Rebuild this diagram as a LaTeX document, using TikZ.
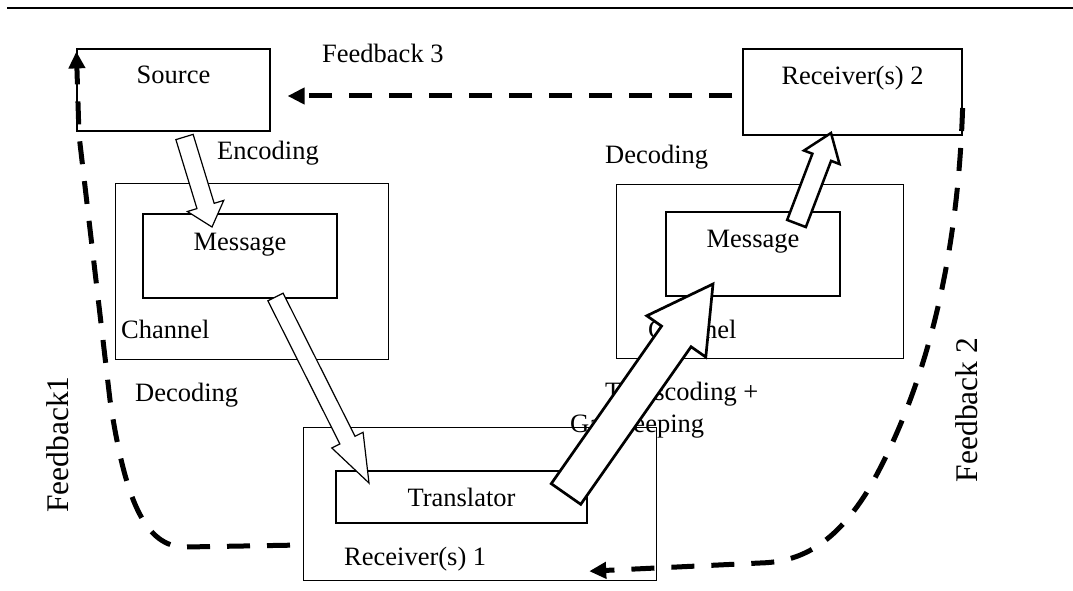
\documentclass[tikz,border=0pt]{standalone}
\usepackage{fontspec}
\setmainfont{Liberation Serif}
\usetikzlibrary{arrows.meta,calc}

% hollow block arrow: [style]{tail}{tip}{half shaft}{half head}{head length}
\newcommand{\blockarrow}[6][]{%
  \coordinate (hb) at ($(#3)!#6!(#2)$);
  \draw[blockarrow,#1] ($(#2)!#4!90:(#3)$) -- ($(hb)!#4!90:(#3)$) -- ($(hb)!#5!90:(#3)$) -- (#3)
    -- ($(hb)!#5!-90:(#3)$) -- ($(hb)!#4!-90:(#3)$) -- ($(#2)!#4!-90:(#3)$) -- cycle;
}

\begin{document}
\begin{tikzpicture}[x=1pt,y=-1pt]
% Define styles for nodes and edges
\tikzstyle{txt} = [font=\fontsize{26.5}{30}\selectfont, inner sep=0]
\tikzstyle{bigtxt} = [font=\fontsize{31.5}{36}\selectfont, inner sep=0]
\tikzstyle{boxed} = [draw, line width=1.2pt, inner sep=0, font=\fontsize{26.5}{30}\selectfont]
\tikzstyle{feedback} = [line width=5pt, dash pattern=on 23pt off 17pt, -{Triangle[length=17pt,width=16pt]}]
\tikzstyle{blockarrow} = [draw, fill=white, line width=1.2pt, line join=miter]

\useasboundingbox (0,0) rectangle (1073,591);
\draw[line width=1.5pt] (7,8) -- (1073,8);

% Nodes
\node[boxed, anchor=base, minimum width=193pt, text height=35pt, text depth=47pt] (source) at (173.5,84) {Source};
\node[boxed, anchor=base, minimum width=219pt, text height=36pt, text depth=50pt] (recv2) at (852.5,85) {Receiver(s) 2};

\node[boxed, anchor=north west, minimum width=273pt, minimum height=176pt] (chanL) at (115,183) {};
\node[boxed, anchor=base, minimum width=194pt, text height=36pt, text depth=48pt] (msgL) at (240,250) {Message};
\node[boxed, anchor=north west, minimum width=287pt, minimum height=174pt] (chanR) at (616,184) {};
\node[boxed, anchor=base, minimum width=174pt, text height=35pt, text depth=49pt] (msgR) at (753,247) {Message};

\node[boxed, anchor=north west, minimum width=353pt, minimum height=153pt] (recv1) at (303,427) {};
\node[boxed, anchor=base, minimum width=251pt, text height=35pt, text depth=17pt] (trans) at (461.5,506) {Translator};

% Labels
\node[txt, anchor=base west] (fbthree) at (322,63) {Feedback 3};
\node[txt, anchor=base west] (enc) at (217,160) {Encoding};
\node[txt, anchor=base west] (decR) at (605,163) {Decoding};
\node[txt, anchor=base west] (chanLlabel) at (121,338) {Channel};
\node[txt, anchor=base west] (chanRlabel) at (648,338) {Channel};
\node[txt, anchor=base west] (decL) at (135,401) {Decoding};
\node[txt, anchor=base west] (transcod) at (605,400) {Transcoding +};
\node[txt, anchor=base west] (gatekeep) at (570,432) {Gatekeeping};
\node[txt, anchor=base west] (recv1label) at (344,565) {Receiver(s) 1};
\node[bigtxt, rotate=90, anchor=base] (fbone) at (68,444.5) {Feedback1};
\node[bigtxt, rotate=90, anchor=base] (fbtwo) at (977,410) {Feedback 2};

% Feedback loops
\draw[feedback] ([xshift=-10pt,yshift=-4pt]recv2.west) -- ([xshift=17pt,yshift=-6pt]source.east);
\draw[feedback] ([xshift=-13pt,yshift=36pt]recv1.south west) -- (185,547)
  .. controls (145,547) and (125,500) .. (110,400) -- (79,135) -- ([yshift=-3pt]source.north west);
\draw[feedback] ([yshift=-16pt]recv2.east) .. controls (958,250) and (930,380) .. (870,487)
  .. controls (835,545) and (800,562) .. (760,563) -- ([xshift=-68pt,yshift=10pt]recv1.south east);

% Block arrows
\coordinate (encTail) at (184.5,137);
\coordinate (encTip) at (212,227);
\coordinate (decTail) at (275.5,297);
\coordinate (decTip) at (369,483);
\coordinate (transTail) at (566,494);
\coordinate (transTip) at (713,284);
\coordinate (recTail) at (796.5,223.5);
\coordinate (recTip) at (831,133);

\blockarrow{encTail}{encTip}{9pt}{19pt}{22pt}
\blockarrow{decTail}{decTip}{8.5pt}{17.5pt}{48pt}
\blockarrow[line width=2.7pt]{transTail}{transTip}{18pt}{36pt}{64pt}
\blockarrow[line width=2.5pt]{recTail}{recTip}{10pt}{19pt}{26pt}
\end{tikzpicture}
\end{document}
